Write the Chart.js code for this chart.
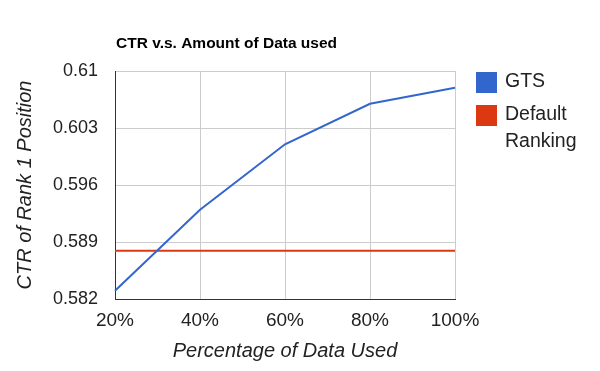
<!DOCTYPE html>
<html>
<head>
<meta charset="utf-8">
<script src="https://cdn.jsdelivr.net/npm/chart.js@4/dist/chart.umd.min.js"></script>
<style>
  html, body { margin: 0; padding: 0; background: #ffffff; }
  #wrap { width: 600px; height: 371px; position: relative; }
</style>
</head>
<body>
<div id="wrap"><canvas id="c" width="600" height="371"></canvas></div>
<script>
const chartTitle = 'CTR v.s. Amount of Data used';
const xAxisTitle = 'Percentage of Data Used';
const yAxisTitle = 'CTR of Rank 1 Position';
const categories = ['20%', '40%', '60%', '80%', '100%'];
const gtsValues = [0.58302, 0.59297, 0.60100, 0.60598, 0.60795];
const defaultRankingValues = [0.58793, 0.58793, 0.58793, 0.58793, 0.58793];
const yTicks = [0.582, 0.589, 0.596, 0.603, 0.61];
const seriesNames = ['GTS', ['Default', 'Ranking']];

const FONT = '"Liberation Sans", Arial, sans-serif';

const customText = {
  id: 'customText',
  afterDraw(chart) {
    const ctx = chart.ctx;
    const area = chart.chartArea;
    ctx.save();
    // title
    ctx.fillStyle = '#000000';
    ctx.font = 'bold 15.5px ' + FONT;
    ctx.textAlign = 'left';
    ctx.textBaseline = 'middle';
    ctx.fillText(chartTitle, area.left + 1, 44);
    // legend
    const ds = chart.data.datasets;
    let y = 72;
    ds.forEach((d, i) => {
      ctx.fillStyle = d.borderColor;
      ctx.fillRect(476, y, 21, 21);
      ctx.fillStyle = '#222222';
      ctx.font = '19.5px ' + FONT;
      ctx.textBaseline = 'middle';
      const lines = Array.isArray(seriesNames[i]) ? seriesNames[i] : [seriesNames[i]];
      lines.forEach((ln, j) => {
        ctx.fillText(ln, 505, y + 10 + j * 27);
      });
      y += 33;
    });
    ctx.restore();
  }
};

new Chart(document.getElementById('c'), {
  type: 'line',
  data: {
    labels: categories,
    datasets: [
      {
        label: 'GTS',
        data: gtsValues,
        borderColor: '#3366cc',
        backgroundColor: '#3366cc',
        borderWidth: 2,
        pointRadius: 0,
        tension: 0,
        fill: false
      },
      {
        label: 'Default Ranking',
        data: defaultRankingValues,
        borderColor: '#dc3912',
        backgroundColor: '#dc3912',
        borderWidth: 2,
        pointRadius: 0,
        tension: 0,
        fill: false
      }
    ]
  },
  options: {
    responsive: false,
    animation: false,
    devicePixelRatio: 1,
    layout: { padding: { top: 71, right: 145, left: 0, bottom: 0 } },
    plugins: {
      legend: { display: false },
      title: { display: false },
      tooltip: { enabled: false }
    },
    scales: {
      x: {
        type: 'category',
        offset: false,
        grid: { color: '#cccccc', drawTicks: false, lineWidth: 1 },
        border: { color: '#333333', width: 1 },
        ticks: {
          color: '#222222',
          font: { family: FONT, size: 19 },
          padding: 10,
          maxRotation: 0,
          autoSkip: false
        },
        title: {
          display: true,
          text: xAxisTitle,
          color: '#222222',
          font: { family: FONT, size: 20, style: 'italic' },
          padding: { top: 6, bottom: 8 }
        },
        afterFit(scale) { scale.height = 72; }
      },
      y: {
        min: yTicks[0],
        max: yTicks[yTicks.length - 1],
        grid: { color: '#cccccc', drawTicks: false, lineWidth: 1 },
        border: { color: '#333333', width: 1 },
        afterBuildTicks(scale) { scale.ticks = yTicks.map(v => ({ value: v })); },
        ticks: {
          color: '#222222',
          font: { family: FONT, size: 18 },
          padding: 17,
          callback: (v) => String(Number(v.toFixed(3)))
        },
        title: {
          display: true,
          text: yAxisTitle,
          color: '#222222',
          font: { family: FONT, size: 20, style: 'italic' },
          padding: { top: 13, bottom: 0 }
        },
        afterFit(scale) { scale.width = 115; }
      }
    }
  },
  plugins: [customText]
});
</script>
</body>
</html>
